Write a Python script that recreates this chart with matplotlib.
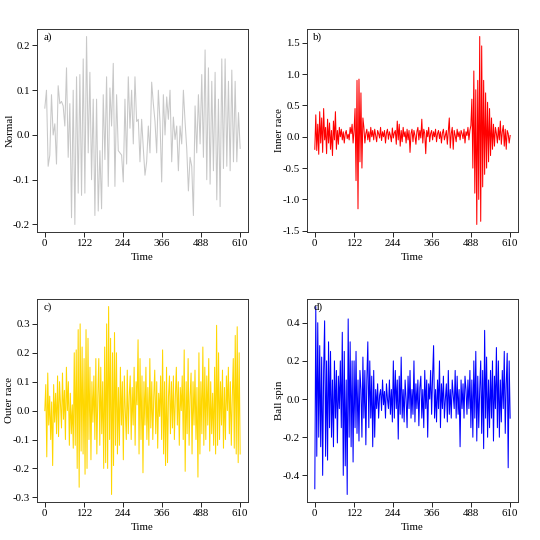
import numpy as np
import matplotlib
matplotlib.use('Agg')
import matplotlib.pyplot as plt

plt.rcParams['font.family'] = ['Liberation Serif', 'DejaVu Serif']
plt.rcParams['font.size'] = 7.8

# readings taken off the four panels (uniform time steps from 0 to 610)
normal = [0.06, 0.10, -0.07, -0.045, 0.09, 0.0, 0.025, -0.065, 0.11, 0.07,
          0.075, 0.065, 0.02, 0.15, -0.05, 0.07, -0.185, 0.10, -0.20, 0.13,
          -0.13, 0.135, -0.135, 0.17, -0.13, 0.22,
          -0.04, 0.14, -0.10, 0.08, -0.18, 0.08, -0.17, -0.035, -0.165, 0.09,
          -0.055, 0.13, -0.115, 0.105, 0.02, 0.16, -0.115, 0.09, -0.035, -0.04,
          -0.045, -0.105, 0.08, -0.065,
          0.13, 0.015, 0.10, -0.02, 0.13, 0.03, 0.035, -0.06, 0.035, -0.03,
          -0.09, -0.06, 0.02, -0.04, 0.118, 0.07, 0.03, -0.04, 0.10, 0.03,
          -0.105, 0.09,
          0.0, 0.085, 0.035, 0.10, -0.06, 0.04, -0.01, 0.02, -0.08, 0.02,
          -0.02, 0.10, 0.03, -0.03, -0.125, -0.05, -0.07, -0.18, 0.065, -0.04,
          0.09, -0.02, 0.135, -0.05, 0.19,
          -0.10, 0.15, -0.11, 0.12, -0.08, 0.14, -0.145, 0.08, -0.16, 0.17,
          -0.075, 0.17, -0.07, 0.12, -0.08, 0.145, -0.06, 0.12, -0.06, 0.05,
          -0.03]

inner = [-0.2, 0.35, -0.22, 0.2, -0.28, 0.4, -0.1, 0.3, -0.25, 0.45,
         -0.05, 0.15, -0.27, 0.28, -0.1, 0.22, -0.2, 0.1, -0.3, 0.25,
         -0.05, 0.4, -0.2,
         0.1, -0.12, 0.15, 0.0, 0.12, -0.05, 0.08, -0.1, 0.05, 0.1,
         -0.03, 0.04, -0.05, 0.15, 0.05, 0.2, -0.1, 0.1,
         0.45, -0.7, 0.9, -1.15, 0.92, -0.4, 0.7, -0.5, 0.3,
         0.15, -0.1, 0.05, 0.12, -0.05, 0.08, -0.08, 0.15, 0.0, 0.1,
         -0.05, 0.12, 0.02, -0.08, 0.1, 0.05, -0.02, 0.15, -0.06, 0.08,
         0.0, 0.1, -0.1, 0.06, 0.12, -0.04, 0.08, 0.02, -0.08, 0.14,
         -0.02, 0.06, 0.1, -0.12, 0.25, -0.05, 0.2, -0.15, 0.1, -0.08,
         0.15, 0.0, 0.08, -0.1, 0.12, -0.05, 0.1, -0.25, 0.05, 0.12,
         -0.08, 0.1, 0.02, -0.12, 0.08, 0.15, -0.05, 0.1, -0.02, 0.28,
         -0.1, 0.12, 0.05, -0.27, 0.1, 0.0, 0.15, -0.08, 0.05, 0.1,
         -0.05, 0.08, 0.0, 0.12, -0.08, 0.05, 0.1, -0.03, 0.08, -0.1,
         0.06, 0.12, -0.05, 0.02, 0.1, -0.12, 0.08, 0.3, -0.18, 0.05,
         0.15, -0.2, 0.1, 0.02, -0.08, 0.12, 0.0, 0.08, -0.05, 0.1,
         0.05, -0.03, 0.12, -0.1, 0.08, 0.02, 0.15, -0.05, 0.1, 0.18,
         0.6, -0.5, 1.05, -0.9, 0.75, -1.4, 0.9, -1.0, 1.6, -1.35,
         1.45, -0.8, 0.9, -0.6, 0.7, -0.5, 0.55, -0.4, 0.45, -0.3, 0.3,
         -0.2, 0.2, -0.15, 0.15, 0.05, -0.1, 0.15, -0.05, 0.25, -0.12,
         0.08, 0.18, -0.15, 0.12, -0.2, 0.1, 0.05, -0.1, 0.02]

outer = [0.0, 0.09, -0.16, 0.13, -0.05, 0.05, -0.1, 0.03, -0.19, 0.09,
         -0.04, 0.06, -0.08, 0.12, -0.09, 0.1, 0.02, -0.06, 0.13, -0.03,
         0.07, -0.1, 0.15, 0.0, 0.1, -0.12, 0.06, -0.08, 0.02, -0.13,
         0.2, -0.12, 0.21, -0.2, 0.28, -0.265, 0.3, -0.14, 0.22, -0.15,
         0.18, -0.22, 0.28, -0.2, 0.25, -0.1, 0.15, -0.17, 0.1, -0.04,
         0.12, -0.1, 0.18, -0.15, 0.05, 0.18, -0.12, 0.15, -0.08, 0.1,
         -0.2, 0.22, -0.18, 0.3, -0.2, 0.36, -0.1, 0.25, -0.29, 0.2,
         -0.19, 0.27, -0.12, 0.2, -0.15,
         0.08, -0.12, 0.15, -0.05, 0.1, -0.17, 0.12, 0.0, -0.1, 0.14,
         -0.08, 0.05, 0.12, -0.1, 0.08, -0.05, 0.15, -0.12, 0.1, 0.02,
         0.245, -0.15, 0.18, -0.1, 0.12, -0.215, 0.1, -0.05, 0.15, -0.1,
         0.08, -0.12, 0.18, -0.06, 0.1, -0.1, 0.05, 0.14, -0.08, 0.1,
         -0.13, 0.06, -0.02, 0.12, -0.1,
         0.21, -0.15, 0.1, -0.19, 0.15, -0.18, 0.05, 0.12, -0.08, 0.1,
         -0.06, 0.12, -0.1, 0.05, 0.15, -0.05, 0.1, -0.12, 0.08, 0.0,
         0.12, -0.1, 0.21, -0.21, 0.1, -0.08, 0.18, -0.12, 0.05, 0.13,
         -0.15, 0.1, -0.05, 0.14, -0.1, 0.08, -0.23, 0.2, -0.15, 0.1,
         -0.08, 0.22, -0.12, 0.15, -0.1, 0.12, -0.05, 0.18, -0.14, 0.1,
         -0.08, 0.06, -0.12, 0.15, -0.15, 0.295, -0.12, 0.2, -0.1, 0.1,
         -0.05, 0.14, -0.13, 0.08, -0.1, 0.12, 0.0, 0.15, -0.08, 0.1,
         -0.12, 0.05, 0.18, -0.13, 0.26, -0.15, 0.29, -0.18, 0.2, -0.15]

ball = [-0.47, 0.485, -0.3, 0.4, -0.2, 0.28, -0.25, 0.22, -0.4, 0.15,
        0.41, -0.3, 0.2, -0.32, 0.3, -0.15, 0.25, -0.2, 0.1, -0.25,
        0.2, -0.1, 0.15, -0.23, 0.12, -0.05, 0.2, -0.15,
        0.35, -0.4, 0.25, -0.35, 0.1, -0.5, 0.42, -0.2, 0.3, -0.25,
        0.2, -0.33,
        0.2, -0.15, 0.25, -0.18, 0.1, -0.22, 0.15, 0.05, -0.2, 0.22,
        -0.1, 0.15, -0.24, 0.1, 0.3, -0.15, 0.2, -0.1, 0.12, -0.25,
        0.15, -0.2, 0.05,
        -0.05, 0.08, -0.1, 0.02, 0.05, -0.06, 0.1, -0.03, 0.04, -0.1,
        0.08, 0.0, -0.05, 0.1, -0.08, 0.05, -0.12,
        0.2, -0.1, 0.15, -0.05, 0.1, -0.21, 0.12, -0.08, 0.22, -0.1,
        0.05, -0.12, 0.1, 0.0, -0.15, 0.12, -0.05, 0.15, -0.1, 0.05,
        -0.08, 0.2, -0.12, 0.08, -0.05, 0.1, -0.14, 0.06, 0.12, -0.1,
        0.05, -0.15, 0.15, -0.05, 0.1, -0.2, 0.08, 0.0, 0.15, -0.08,
        0.12, 0.28, -0.1, 0.05, -0.12, 0.1, -0.05, 0.2, -0.15, 0.08,
        -0.05, 0.12, -0.1, 0.0, 0.08, -0.12, 0.15, -0.08, 0.05, -0.1,
        0.1, 0.02, -0.05, 0.15, -0.1, 0.12, -0.08, 0.05, -0.25, 0.1,
        -0.05, 0.08, -0.1, 0.12, 0.05, -0.08, 0.1, -0.05, 0.15, -0.15,
        0.1, -0.2, 0.2, -0.1, 0.25, -0.22, 0.12, -0.15, 0.05, 0.2,
        -0.18, 0.15, -0.26, 0.36, -0.1, 0.22, -0.2, 0.1, -0.15, 0.15,
        -0.1, 0.2, -0.22, 0.12, -0.05, 0.27, -0.15, 0.2, -0.2, 0.1,
        -0.12, 0.15, -0.05, 0.25, -0.18, 0.08, 0.24, -0.36, 0.2, -0.1]

panels = ['a)', 'b)', 'c)', 'd)']
ylabels = ['Normal', 'Inner race', 'Outer race', 'Ball spin']
colors = ['#c8c8c8', '#ff0000', '#ffd700', '#0000ff']
yticks = [np.arange(-0.2, 0.21, 0.1), np.arange(-1.5, 1.51, 0.5),
          np.arange(-0.3, 0.31, 0.1), np.arange(-0.4, 0.41, 0.2)]
xticks = [0, 122, 244, 366, 488, 610]
series = [normal, inner, outer, ball]

# axes boxes in figure fractions (left, bottom, width, height)
boxes = [(0.0685, 0.5704, 0.3907, 0.3759), (0.5685, 0.5704, 0.3907, 0.3759),
         (0.0685, 0.0704, 0.3907, 0.3759), (0.5685, 0.0704, 0.3907, 0.3759)]

fig = plt.figure(figsize=(5.4, 5.4), dpi=100)
for k in range(4):
    ax = fig.add_axes(boxes[k])
    y = np.array(series[k])
    t = np.linspace(0, 610, len(y))
    ax.plot(t, y, color=colors[k], lw=0.75)
    ax.margins(x=0.04, y=0.04)
    ax.set_xticks(xticks)
    ax.set_yticks(yticks[k])
    ax.yaxis.set_major_formatter(matplotlib.ticker.FormatStrFormatter('%.1f'))
    ax.tick_params(direction='out', length=3.5, width=0.6, pad=1.5)
    for s in ax.spines.values():
        s.set_linewidth(0.7)
        s.set_color('#333333')
    ax.set_xlabel('Time')
    ax.set_ylabel(ylabels[k])
    ax.xaxis.label.set_va('center')
    ax.yaxis.label.set_va('center')
    ax.xaxis.set_label_coords(0.5, -0.128)
    ax.yaxis.set_label_coords(-0.128, 0.5)
    ax.text(0.03, 0.985, panels[k], transform=ax.transAxes, va='top', ha='left')

fig.savefig('out.png', dpi=100)
